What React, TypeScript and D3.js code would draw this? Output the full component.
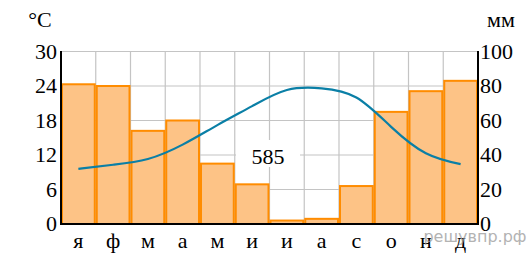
import React from "react";
import * as d3 from "d3";

const months = ["я", "ф", "м", "а", "м", "и", "и", "а", "с", "о", "н", "д"];
const precipitation = [81, 80, 54, 60, 35, 23, 2, 3, 22, 65, 77, 83];
const temperature = [9.6, 10.3, 11.3, 13.8, 17.2, 20.5, 23.3, 23.6, 22.0, 16.9, 12.3, 10.4];
const tempTicks = [0, 6, 12, 18, 24, 30];
const precTicks = [0, 20, 40, 60, 80, 100];
const totalLabel = "585";

const SERIF = "Liberation Serif, Times New Roman, Times, DejaVu Serif, Noto Serif, serif";

export default function App() {
  const W = 532, H = 254;
  const left = 61, right = 478, top = 51.5, bottom = 224;
  const x = d3.scaleBand<number>().domain(d3.range(12)).range([left, right]).padding(0);
  const yT = d3.scaleLinear().domain([0, 30]).range([bottom, top]);
  const yP = d3.scaleLinear().domain([0, 100]).range([bottom, top]);
  const bw = x.bandwidth();
  const line = d3
    .line<number>()
    .x((_, i) => (x(i) as number) + bw / 2)
    .y((d) => yT(d))
    .curve(d3.curveNatural);
  return (
    <svg width={W} height={H} style={{ position: "absolute", left: 0, top: 0 }}>
      <rect x={0} y={0} width={W} height={H} fill="#fff" />
      {tempTicks.map((t) => (
        <line key={"h" + t} x1={left} x2={right} y1={yT(t)} y2={yT(t)} stroke="#c4c4c4" strokeWidth={1.2} />
      ))}
      {d3.range(13).map((i) => {
        const xx = left + i * bw;
        return <line key={"v" + i} x1={xx} x2={xx} y1={top} y2={bottom} stroke="#c4c4c4" strokeWidth={1.2} />;
      })}
      {precipitation.map((p, i) => (
        <rect
          key={"b" + i}
          x={(x(i) as number) + 1}
          y={yP(p)}
          width={bw - 2}
          height={bottom - yP(p)}
          fill="#FDC386"
          stroke="#FF8C00"
          strokeWidth={2}
        />
      ))}
      <rect x={236} y={140} width={64} height={27} fill="#fff" />
      <g fontFamily={SERIF} fontSize={22} fill="#000">
        <text x={268} y={164} textAnchor="middle">{totalLabel}</text>
      </g>
      <path d={line(temperature) || ""} fill="none" stroke="#0A7FA6" strokeWidth={2.2} />
      <line x1={left} x2={left} y1={top - 0.5} y2={bottom + 1} stroke="#000" strokeWidth={2} />
      <line x1={right} x2={right} y1={top - 0.5} y2={bottom + 1} stroke="#000" strokeWidth={2} />
      <line x1={left - 1} x2={right + 1} y1={bottom} y2={bottom} stroke="#000" strokeWidth={2} />
      <g fontFamily={SERIF} fontSize={22} fill="#000">
        {tempTicks.map((t) => (
          <text key={"tl" + t} x={57} y={yT(t) + 7} textAnchor="end">{t}</text>
        ))}
        {precTicks.map((t) => (
          <text key={"pl" + t} x={480} y={yP(t) + 7} textAnchor="start">{t}</text>
        ))}
        {months.map((m, i) => (
          <text key={"m" + i} x={(x(i) as number) + bw / 2} y={248} textAnchor="middle">{m}</text>
        ))}
        <text x={40} y={27} textAnchor="middle">°C</text>
        <text x={501} y={27} textAnchor="middle">мм</text>
      </g>
      <text x={475} y={242} textAnchor="middle" fontSize={16} fill="#9a9a9a" opacity={0.75} fontFamily="DejaVu Sans, sans-serif">решувпр.рф</text>
    </svg>
  );
}
